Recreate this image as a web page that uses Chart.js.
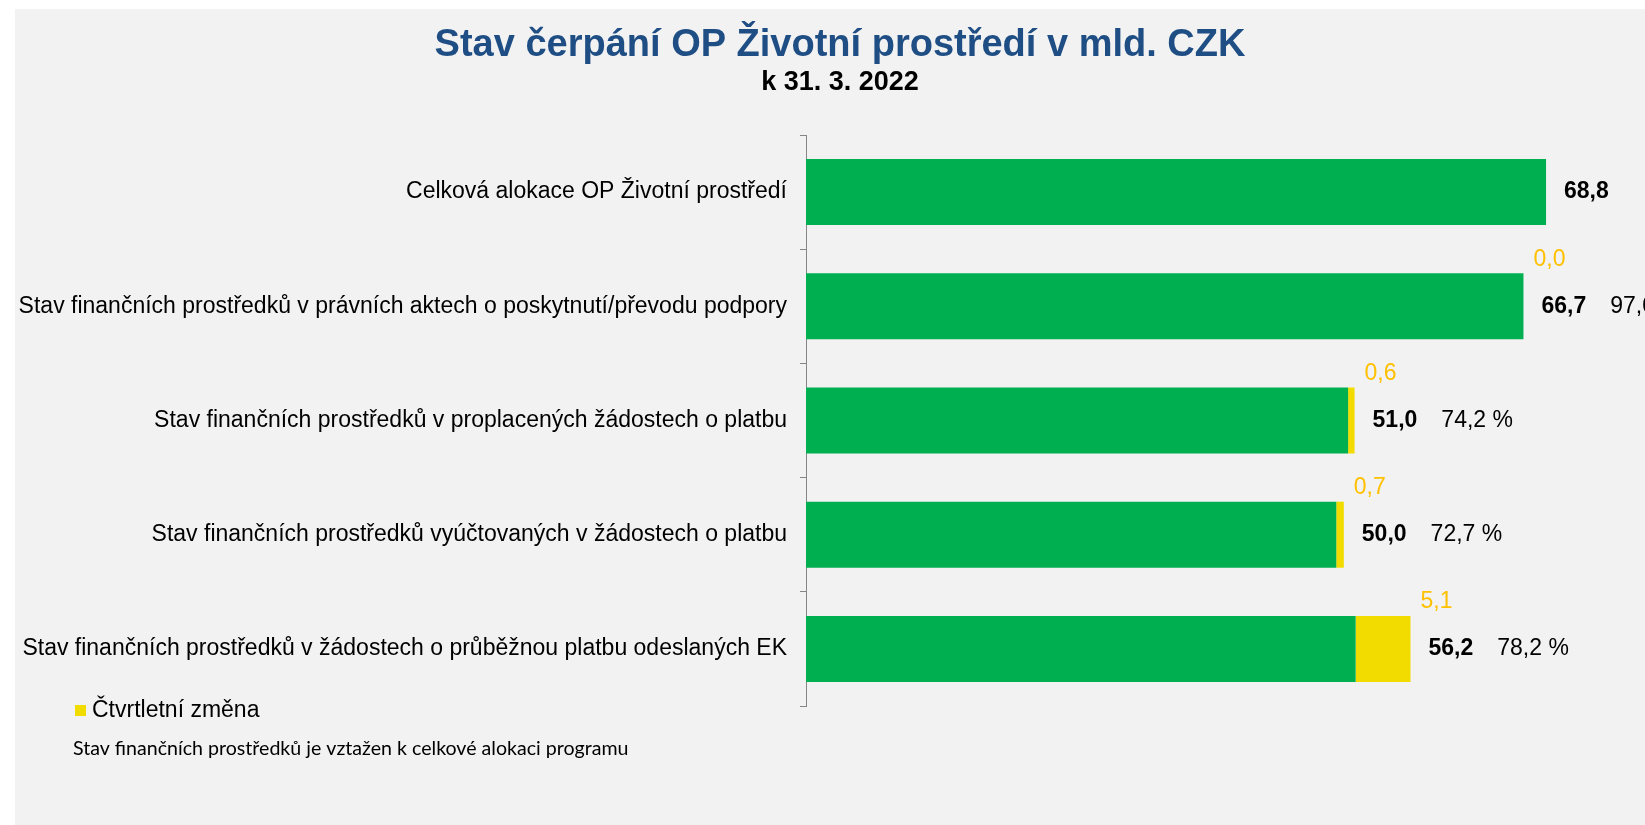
<!DOCTYPE html>
<html>
<head>
<meta charset="utf-8">
<script src="https://cdn.jsdelivr.net/npm/chart.js@4.4.1/dist/chart.umd.min.js"></script>
<style>
  body { margin: 0; background: #fff; }
  canvas { display: block; }
</style>
</head>
<body>
<canvas id="chart" width="1645" height="825"></canvas>
<script>
const categories = [
  'Celková alokace OP Životní prostředí',
  'Stav finančních prostředků v právních aktech o poskytnutí/převodu podpory',
  'Stav finančních prostředků v proplacených žádostech o platbu',
  'Stav finančních prostředků vyúčtovaných v žádostech o platbu',
  'Stav finančních prostředků v žádostech o průběžnou platbu odeslaných EK'
];
const baseValues = [68.8, 66.7, 50.4, 49.3, 51.1];
const changeValues = [null, 0.0, 0.6, 0.7, 5.1];
const totals = [68.8, 66.7, 51.0, 50.0, 56.2];
const shares = [null, 97.0, 74.2, 72.7, 78.2];

const GREEN = '#00B050';
const YELLOW = '#F2DC00';
const ARIAL = '"Liberation Sans", Arial, sans-serif';

function fmt(v) {
  return v.toFixed(1).replace('.', ',');
}

// background, titles, legend and footnote
const decor = {
  id: 'decor',
  beforeDraw(chart) {
    const c = chart.ctx;
    c.save();
    c.fillStyle = '#ffffff';
    c.fillRect(0, 0, chart.width, chart.height);
    c.fillStyle = '#F2F2F2';
    c.fillRect(15, 9, chart.width - 15, chart.height - 9);

    c.textAlign = 'center';
    c.textBaseline = 'middle';
    c.fillStyle = '#1F4E85';
    c.font = 'bold 38px ' + ARIAL;
    c.fillText('Stav čerpání OP Životní prostředí v mld. CZK', 840, 46);
    c.fillStyle = '#000';
    c.font = 'bold 27px ' + ARIAL;
    c.fillText('k 31. 3. 2022', 840, 83);
    c.restore();
  },
  afterDraw(chart) {
    const c = chart.ctx;
    c.save();
    c.fillStyle = YELLOW;
    c.fillRect(75, 705, 11, 11);
    c.fillStyle = '#000';
    c.textAlign = 'left';
    c.textBaseline = 'middle';
    c.font = '23px ' + ARIAL;
    c.fillText('Čtvrtletní změna', 92, 711);
    c.font = '19.6px Lato, "Open Sans", sans-serif';
    c.fillText('Stav finančních prostředků je vztažen k celkové alokaci programu', 73, 749);
    c.restore();
  }
};

// value labels next to the bars
const barLabels = {
  id: 'barLabels',
  afterDatasetsDraw(chart) {
    const c = chart.ctx;
    const base = chart.getDatasetMeta(0).data;
    const top = chart.getDatasetMeta(1).data;
    c.save();
    c.textAlign = 'left';
    c.textBaseline = 'middle';
    categories.forEach((_, i) => {
      const bar = base[i];
      const endX = changeValues[i] !== null ? top[i].x : bar.x;
      const y = bar.y;
      const barTop = y - bar.height / 2;

      c.fillStyle = '#000';
      c.font = 'bold 23px ' + ARIAL;
      const tx = endX + 18;
      c.fillText(fmt(totals[i]), tx, y);
      const w = c.measureText(fmt(totals[i])).width;

      if (shares[i] !== null) {
        c.font = '23px ' + ARIAL;
        c.fillText(fmt(shares[i]) + ' %', tx + w + 24, y);
      }
      if (changeValues[i] !== null) {
        c.fillStyle = '#FFC000';
        c.font = '23px ' + ARIAL;
        c.fillText(fmt(changeValues[i]), endX + 10, barTop - 14);
      }
    });
    c.restore();
  }
};

new Chart(document.getElementById('chart').getContext('2d'), {
  type: 'bar',
  data: {
    labels: categories,
    datasets: [
      {
        label: 'Stav',
        data: baseValues,
        backgroundColor: GREEN,
        barPercentage: 0.578,
        categoryPercentage: 1
      },
      {
        label: 'Čtvrtletní změna',
        data: changeValues,
        backgroundColor: YELLOW,
        barPercentage: 0.578,
        categoryPercentage: 1
      }
    ]
  },
  options: {
    indexAxis: 'y',
    responsive: false,
    animation: false,
    layout: {
      padding: { top: 135, bottom: 119, left: 0, right: 0 }
    },
    plugins: {
      legend: { display: false },
      title: { display: false },
      tooltip: { enabled: false }
    },
    scales: {
      x: {
        display: false,
        stacked: true,
        min: 0,
        max: 78
      },
      y: {
        stacked: true,
        afterFit(scale) {
          scale.width = 806;
        },
        grid: {
          offset: true,
          drawOnChartArea: false,
          drawTicks: true,
          tickLength: 6,
          color: '#868686'
        },
        border: { display: true, color: '#868686', width: 1 },
        ticks: {
          padding: 13,
          color: '#000',
          font: { family: ARIAL, size: 23 }
        }
      }
    }
  },
  plugins: [decor, barLabels]
});
</script>
</body>
</html>
